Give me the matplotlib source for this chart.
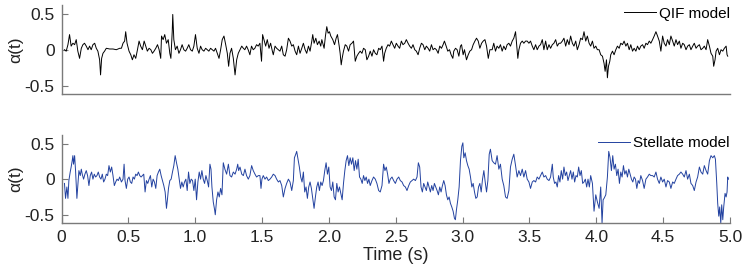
import matplotlib as mpl
import matplotlib.pyplot as plt
mpl.use('agg')

plt.rcParams['font.family'] = ['Liberation Sans', 'DejaVu Sans']

# QIF model, alpha(t)
qif_t = [0.022, 0.035, 0.048, 0.06, 0.072, 0.085, 0.098, 0.11, 0.122, 0.135, 0.148, 0.16, 0.172, 0.185, 0.198,
         0.21, 0.222, 0.235, 0.248, 0.26, 0.272, 0.285, 0.292, 0.30, 0.31, 0.322, 0.335, 0.36, 0.385, 0.41, 0.435,
         0.448, 0.46, 0.472, 0.48, 0.49, 0.505, 0.518, 0.53, 0.542, 0.555, 0.568, 0.58, 0.592, 0.605, 0.618, 0.63,
         0.642, 0.655, 0.668, 0.68, 0.692, 0.705, 0.718, 0.73, 0.742, 0.748, 0.76, 0.772, 0.785, 0.798, 0.81, 0.818,
         0.828, 0.832, 0.84, 0.852, 0.865, 0.878, 0.89, 0.902, 0.915, 0.928, 0.94, 0.952, 0.965, 0.978, 0.99, 1.002,
         1.015, 1.028, 1.04, 1.052, 1.065, 1.078, 1.09, 1.102, 1.115, 1.128, 1.14, 1.152, 1.165, 1.178, 1.19, 1.202,
         1.215, 1.228, 1.24, 1.25, 1.26, 1.272, 1.285, 1.298, 1.31, 1.322, 1.335, 1.348, 1.36,
         1.371, 1.384, 1.396, 1.409, 1.421, 1.434, 1.446, 1.459, 1.471, 1.484, 1.496, 1.504, 1.514, 1.527, 1.539,
         1.552, 1.564, 1.577, 1.584, 1.597, 1.609, 1.622, 1.634, 1.647, 1.659, 1.672, 1.684, 1.697, 1.709, 1.722,
         1.734, 1.747, 1.759, 1.772, 1.784, 1.797, 1.809, 1.822, 1.834, 1.847, 1.859, 1.872, 1.879, 1.889, 1.902,
         1.914, 1.927, 1.939, 1.947, 1.954, 1.964, 1.974, 1.984, 1.994, 2.004, 2.014, 2.029, 2.042, 2.054, 2.064,
         2.077, 2.084, 2.092, 2.099, 2.109, 2.122, 2.134, 2.147, 2.159, 2.172, 2.184, 2.197, 2.209, 2.222, 2.234,
         2.247, 2.259, 2.272, 2.284, 2.297, 2.309, 2.322, 2.334, 2.347, 2.359, 2.372, 2.384, 2.397, 2.409, 2.417,
         2.429, 2.442, 2.454, 2.467, 2.479, 2.492, 2.504, 2.517, 2.529, 2.542, 2.554, 2.567, 2.579, 2.592, 2.604,
         2.617, 2.629, 2.642, 2.654, 2.667, 2.679, 2.692, 2.704, 2.717, 2.729, 2.742, 2.754, 2.767, 2.779, 2.792,
         2.804, 2.817, 2.829, 2.842, 2.854, 2.864, 2.877, 2.889, 2.902, 2.914, 2.927, 2.934, 2.947, 2.959, 2.972,
         2.984, 2.992, 3.004, 3.014, 3.029, 3.042, 3.054, 3.067, 3.079, 3.092, 3.104, 3.117, 3.129, 3.142, 3.154,
         3.167, 3.179, 3.192, 3.204,
         3.221, 3.233, 3.246, 3.258, 3.271, 3.283, 3.296, 3.308, 3.321, 3.333, 3.346, 3.358, 3.371, 3.383, 3.396,
         3.403, 3.413, 3.421, 3.433, 3.446, 3.458, 3.471, 3.483, 3.496, 3.508, 3.521, 3.533, 3.546, 3.558, 3.571,
         3.583, 3.596, 3.608, 3.621, 3.633, 3.646, 3.658, 3.671, 3.683, 3.696, 3.708, 3.721, 3.733, 3.746, 3.758,
         3.771, 3.783, 3.796, 3.808, 3.821, 3.833, 3.846, 3.858, 3.871, 3.883, 3.896, 3.908, 3.921, 3.933, 3.946,
         3.958, 3.971, 3.983, 3.996, 4.008, 4.021, 4.033, 4.046, 4.058, 4.066, 4.076, 4.083, 4.091, 4.101, 4.108,
         4.121, 4.133, 4.146, 4.158, 4.171, 4.183, 4.196, 4.208, 4.221, 4.233, 4.246, 4.258, 4.271, 4.283, 4.296,
         4.308, 4.321, 4.333, 4.346, 4.358, 4.371, 4.383, 4.396, 4.408, 4.421, 4.433, 4.446, 4.458, 4.471, 4.483,
         4.496, 4.508, 4.521, 4.533, 4.546, 4.558, 4.571, 4.583, 4.596, 4.608, 4.621, 4.633, 4.646, 4.658, 4.671,
         4.683, 4.696, 4.708, 4.721, 4.733, 4.746, 4.758, 4.771, 4.783, 4.796, 4.808, 4.821, 4.833, 4.846, 4.858,
         4.871, 4.878, 4.888, 4.896, 4.908, 4.921, 4.933, 4.946, 4.958, 4.971, 4.978, 4.983]
qif_a = [0, -0.02, 0.07, 0.21, 0.05, 0.09, 0.07, 0.14, -0.02, -0.12, 0.02, 0.07, 0.09, 0.05, 0,
         0.05, 0, 0.07, 0.09, 0.02, -0.02, -0.14, -0.35, -0.12, -0.05, -0.02, 0.02, 0.01, 0.01, 0, 0.02,
         0.02, 0.09, 0.12, 0.25, 0.09, -0.02, -0.07, -0.14, -0.07, -0.12, 0, 0.12, 0.05, 0, 0.12, 0.05,
         -0.02, 0.02, 0, -0.05, -0.02, 0.02, 0.07, 0, -0.12, 0.19, 0.14, 0.21, 0.09, 0.14, -0.05, -0.12,
         0.25, 0.49, 0.14, 0, 0.05, -0.05, 0, 0.07, 0, -0.02, 0.02, 0.07, 0, -0.02, 0.05, 0.21,
         0.02, -0.05, 0.05, 0, -0.02, 0.02, 0, -0.02, 0.02, 0, -0.02, 0.02, -0.05, -0.12, 0, 0.14,
         0.19, 0.07, -0.05, -0.23, -0.05, 0.02, -0.12, -0.35, -0.14, -0.05, 0, 0.05, 0.02,
         0, 0.05, 0, -0.07, 0.05, 0, 0.02, 0.07, 0.05, 0.09, -0.16, 0.21, 0.14, 0.05, 0.14,
         0.02, 0.09, -0.02, -0.07, 0.05, 0.02, 0, -0.02, 0.05, -0.07, -0.09, 0, 0.16, 0.12, 0.05,
         0.07, -0.02, -0.07, 0.05, -0.05, 0.02, 0.09, 0, -0.05, 0.05, -0.02, 0.12, 0.21, 0.09, 0.16,
         0.07, 0.12, 0.05, 0.14, 0.09, 0.02, 0.19, 0.32, 0.23, 0.25, 0.19, 0.14, 0.07, 0.16, 0.21,
         0.05, -0.05, -0.21, -0.12, -0.02, 0.07, 0.05, -0.02, 0.07, 0.09, 0.12, -0.16, -0.09, -0.05, -0.02,
         -0.05, 0.02, 0, -0.14, -0.09, -0.02, -0.09, 0, -0.05, -0.07, 0.02, 0, 0.05, -0.16, -0.05,
         0.02, 0.07, 0.05, 0.12, 0.07, 0.02, 0.09, 0.05, 0.02, 0.12, 0.07, 0.09, 0.14, 0.09, 0.05,
         0.02, 0.07, 0, -0.02, -0.07, 0.02, 0.09, 0.07, 0, 0.05, 0.02, -0.02, 0.07, 0, 0.02,
         0, -0.05, 0.05, 0.02, 0.07, 0.12, 0.05, -0.02, 0, -0.07, -0.12, -0.02, 0.02, 0, -0.09,
         0.05, 0.07, -0.07, 0, -0.14, -0.07, -0.02, 0, 0.07, 0.12, 0.16, 0.12, 0.02, 0.09, 0.12,
         0.14, 0.05, -0.12, 0,
         0, 0.09, -0.02, 0.05, 0.02, 0.07, -0.02, 0.05, 0, 0.07, 0.09, 0.05, 0.12, 0.16, 0.25,
         0.09, -0.12, 0, 0.09, 0.12, 0.09, 0.12, 0.12, 0.09, 0.12, 0.05, 0, 0.07, 0, 0.05,
         0.07, 0.14, 0, 0.12, 0, 0.07, 0.02, 0.07, 0.09, 0.14, 0.05, 0.09, 0.09, 0.12, 0.16,
         0.05, 0.14, 0.07, 0.19, 0.09, 0.05, 0.12, 0, 0.07, 0.16, 0.14, 0.25, 0.12, 0.19, 0.09,
         0.05, 0.12, 0.02, 0.05, 0, 0, -0.07, -0.09, -0.19, -0.30, -0.14, -0.39, -0.23, -0.16, -0.07,
         -0.02, -0.07, 0, 0.05, 0.02, 0.09, 0.07, 0.12, 0.05, 0.09, 0, 0.07, -0.02, 0.02, -0.02,
         0.05, 0, 0.05, 0.07, 0.02, 0.09, 0.07, 0.12, 0.09, 0.14, 0.19, 0.25, 0.19, 0.12, -0.02,
         0.19, 0.09, 0.05, 0.14, 0.07, 0.19, 0.12, 0.05, 0.14, 0.07, 0.12, 0.02, 0.09, 0.07, 0,
         0.05, 0.07, 0, 0.05, 0.09, 0.02, 0.05, 0.07, 0, 0.02, 0.05, 0, 0.14, 0.05, -0.05,
         -0.09, -0.23, -0.14, -0.02, 0.02, -0.07, 0, -0.02, 0.02, 0.05, -0.07, -0.09]

# Stellate model, alpha(t)
stel_t = [0.022, 0.03, 0.04, 0.048, 0.055, 0.065, 0.072, 0.08, 0.085, 0.09, 0.098, 0.105, 0.115, 0.122, 0.13,
          0.14, 0.148, 0.155, 0.165, 0.175, 0.185, 0.195, 0.205, 0.215, 0.225, 0.235, 0.245, 0.255, 0.265, 0.275,
          0.285, 0.295, 0.305, 0.315, 0.325, 0.335, 0.345, 0.355, 0.365, 0.375, 0.385, 0.395, 0.405, 0.415, 0.425,
          0.435, 0.448, 0.46, 0.468, 0.475, 0.485, 0.495, 0.505, 0.515, 0.525, 0.535, 0.545, 0.555, 0.565, 0.575,
          0.585, 0.595, 0.605, 0.615, 0.625, 0.635, 0.645, 0.655, 0.665, 0.675, 0.685, 0.695, 0.705, 0.715, 0.725,
          0.735, 0.745, 0.755, 0.765, 0.775, 0.785, 0.792, 0.80, 0.81, 0.82, 0.83, 0.84, 0.85, 0.86, 0.87,
          0.88, 0.89, 0.90, 0.91, 0.92, 0.93, 0.94, 0.95, 0.96, 0.97, 0.98, 0.99, 1.00, 1.01, 1.02,
          1.03, 1.04, 1.05, 1.06, 1.07, 1.08, 1.09, 1.10, 1.11, 1.118, 1.125, 1.135, 1.145, 1.15, 1.16,
          1.17, 1.18, 1.19, 1.20, 1.21, 1.222, 1.235, 1.248, 1.26, 1.272, 1.285, 1.298, 1.31, 1.318, 1.325,
          1.335, 1.348, 1.36,
          1.372, 1.384, 1.397, 1.409, 1.422, 1.434, 1.447, 1.459, 1.472, 1.484, 1.492, 1.499, 1.509, 1.522, 1.534,
          1.547, 1.559, 1.572, 1.584, 1.597, 1.609, 1.622, 1.634, 1.647, 1.659, 1.672, 1.684, 1.697, 1.709, 1.722,
          1.734, 1.742, 1.752, 1.759, 1.769, 1.779, 1.789, 1.799, 1.809, 1.819, 1.829, 1.839, 1.849, 1.859, 1.869,
          1.879, 1.889, 1.899, 1.909, 1.919, 1.929, 1.939, 1.949, 1.959, 1.969, 1.979, 1.989, 1.999, 2.009, 2.019,
          2.029, 2.039, 2.049, 2.059, 2.069, 2.079, 2.089, 2.099, 2.109, 2.119, 2.129, 2.139, 2.149, 2.159, 2.169,
          2.179, 2.189, 2.199, 2.209, 2.219, 2.229, 2.239, 2.249, 2.259, 2.269, 2.279, 2.289, 2.299, 2.309, 2.322,
          2.334, 2.347, 2.359, 2.372, 2.384, 2.397, 2.409, 2.419, 2.429, 2.439, 2.449, 2.459, 2.472, 2.484, 2.497,
          2.509, 2.522, 2.534, 2.547, 2.559, 2.572, 2.584, 2.597, 2.609, 2.622, 2.634, 2.647, 2.659, 2.669, 2.679,
          2.689, 2.699, 2.709, 2.719, 2.729, 2.739, 2.749, 2.759, 2.769, 2.779, 2.789, 2.799, 2.809, 2.819, 2.829,
          2.839, 2.849, 2.859, 2.869, 2.879, 2.889, 2.899, 2.909, 2.919, 2.929, 2.939, 2.946, 2.954, 2.964, 2.974,
          2.984, 2.994, 3.002, 3.009, 3.019, 3.029, 3.039, 3.049, 3.059, 3.069, 3.079, 3.089, 3.099, 3.109, 3.119,
          3.129, 3.139, 3.149, 3.159, 3.169, 3.179, 3.189, 3.199,
          3.208, 3.221, 3.233, 3.246, 3.258, 3.271, 3.283, 3.296, 3.308, 3.321, 3.333, 3.346, 3.358, 3.371, 3.383,
          3.396, 3.408, 3.421, 3.433, 3.446, 3.458, 3.471, 3.483, 3.496, 3.508, 3.521, 3.533, 3.546, 3.558, 3.571,
          3.583, 3.596, 3.608, 3.621, 3.633, 3.646, 3.658, 3.671, 3.678, 3.688, 3.698, 3.708, 3.718, 3.728, 3.738,
          3.748, 3.758, 3.768, 3.778, 3.788, 3.798, 3.808, 3.818, 3.828, 3.838, 3.848, 3.858, 3.868, 3.878, 3.888,
          3.898, 3.908, 3.918, 3.928, 3.938, 3.948, 3.958, 3.971, 3.983, 3.996, 4.008, 4.021, 4.033, 4.043, 4.051,
          4.058, 4.071, 4.083, 4.093, 4.103, 4.113, 4.123, 4.133, 4.143, 4.153, 4.163, 4.173, 4.183, 4.193, 4.203,
          4.213, 4.223, 4.233, 4.243, 4.253, 4.263, 4.273, 4.283, 4.293, 4.303, 4.313, 4.323, 4.333, 4.346, 4.358,
          4.371, 4.383, 4.396, 4.408, 4.421, 4.433, 4.446, 4.458, 4.471, 4.483, 4.496, 4.508, 4.521, 4.533, 4.546,
          4.558, 4.571, 4.583, 4.596, 4.608, 4.621, 4.633, 4.646, 4.658, 4.671, 4.683, 4.696, 4.708, 4.721, 4.733,
          4.746, 4.758, 4.771, 4.783, 4.796, 4.808, 4.821, 4.833, 4.846, 4.858, 4.871, 4.883, 4.891, 4.901, 4.908,
          4.916, 4.923, 4.931, 4.938, 4.946, 4.953, 4.963, 4.971, 4.978, 4.983, 4.988]
stel_a = [-0.06, -0.27, -0.11, -0.27, -0.02, 0.10, 0.17, 0.26, 0.33, 0.21, 0.33, 0.12, -0.27, -0.09, 0.12,
          0.05, 0.14, 0.07, 0, 0.07, 0.12, 0.05, -0.09, 0.05, 0.10, 0, 0.07, 0.03, 0.05, 0.10,
          0.03, 0, 0.07, -0.04, 0, 0.07, 0.05, 0.19, 0.10, 0.17, 0.05, -0.09, -0.04, 0, -0.02,
          0.03, -0.04, 0, 0.21, -0.02, -0.13, 0, 0.03, -0.04, -0.06, 0.03, 0, 0.07, 0.05, 0.10,
          0.05, 0.03, 0.05, 0.07, -0.18, -0.02, -0.06, 0, 0.05, -0.11, 0, -0.04, -0.13, 0.05, 0.10,
          0.14, 0.05, -0.02, -0.09, -0.18, -0.41, -0.29, -0.13, -0.02, 0, 0.10, 0.19, 0.33, 0.23, 0.14,
          0, -0.13, -0.04, -0.11, -0.04, 0, -0.16, 0.10, -0.06, 0, -0.02, -0.16, 0, -0.29, -0.04,
          0.10, 0, 0.12, 0, -0.06, 0.05, -0.02, -0.11, 0.21, 0.14, -0.11, -0.32, -0.43, -0.50, -0.29,
          -0.18, -0.25, -0.13, -0.22, 0.23, 0.14, 0.07, 0.21, 0.05, 0.03, 0.10, 0.07, 0.14, 0.21, 0.12,
          0.17, 0.07, 0.05,
          0.14, 0.05, 0, 0.05, 0.19, 0.12, 0.07, 0.03, 0.05, 0.05, -0.13, 0, 0.05, 0, 0.03,
          -0.02, 0, 0.03, 0.07, 0.05, 0, -0.04, -0.02, -0.09, -0.25, -0.13, -0.06, 0, -0.04, -0.16,
          -0.02, 0.30, 0.35, 0.39, 0.28, 0.17, 0.03, -0.04, 0.10, -0.18, -0.11, -0.27, -0.11, -0.04, -0.13,
          -0.27, -0.41, -0.25, -0.11, -0.04, -0.16, -0.04, -0.09, -0.02, 0.12, 0.23, 0.07, 0.17, -0.11, -0.16,
          -0.04, -0.25, -0.29, -0.06, -0.18, -0.11, -0.20, -0.29, -0.06, 0.12, 0.26, 0.33, 0.19, 0.30, 0.21,
          0.30, 0.12, 0.26, 0.14, 0.28, 0.03, 0, -0.06, 0.05, -0.02, 0.03, -0.06, 0, -0.09, -0.02,
          0.03, 0, -0.06, -0.16, -0.18, -0.09, 0.21, 0.12, 0.17, 0.07, -0.06, 0, 0.03, -0.02, -0.06,
          0, 0.03, -0.02, -0.04, -0.09, -0.11, -0.16, -0.09, -0.04, -0.02, 0, -0.02, 0.03, 0.23, 0.17,
          -0.11, -0.18, -0.06, -0.11, -0.16, -0.04, -0.11, -0.18, -0.09, -0.16, -0.06, -0.11, -0.16, -0.22, -0.11,
          -0.18, -0.09, -0.02, -0.09, -0.22, -0.29, -0.25, -0.34, -0.39, -0.45, -0.55, -0.57, -0.43, -0.29, -0.11,
          0.26, 0.46, 0.51, 0.30, 0.37, 0.26, 0.19, 0.14, 0.03, -0.11, -0.06, -0.18, -0.27, -0.25, -0.11,
          -0.06, -0.18, 0, 0.12, -0.04, -0.18, -0.02, 0.35,
          0.42, 0.26, 0.23, 0.21, 0.33, 0.14, 0.21, 0, -0.09, -0.25, -0.27, -0.16, 0.17, 0.28, 0.35,
          0.19, 0.03, 0.12, 0.05, 0.14, 0.03, 0.12, 0, -0.04, -0.13, -0.04, -0.02, -0.04, 0.03, 0,
          0.05, 0.10, 0.03, 0.05, 0, -0.02, 0.03, 0.21, 0.03, -0.06, -0.04, -0.11, 0.05, -0.04, 0.12,
          0, 0.17, 0.05, 0.10, -0.02, 0.05, 0.12, 0, 0.10, -0.04, 0.05, 0.03, 0.17, 0.05, 0.12,
          -0.06, -0.04, 0, -0.11, 0, -0.11, 0.05, -0.06, -0.45, -0.22, -0.32, -0.41, -0.11, -0.62, -0.29,
          -0.27, -0.22, 0.03, 0.39, 0.30, 0.12, 0.33, 0.14, 0.21, 0.05, 0.14, -0.06, 0.10, 0.03, 0.19,
          0.07, 0.12, 0.03, 0.14, 0.07, 0, -0.04, 0.03, 0, -0.13, -0.02, -0.06, 0.05, -0.02, -0.13,
          0, 0.03, 0.07, 0.05, 0.05, 0.03, 0.10, 0, -0.06, 0.03, -0.04, 0, -0.11, -0.02, -0.04,
          -0.13, -0.04, -0.06, 0, 0.05, 0.07, 0.10, 0.07, 0.03, 0.12, 0, 0.07, -0.06, -0.09, -0.16,
          -0.04, 0.03, 0.17, 0.10, 0.07, 0.19, 0.12, 0.07, 0.26, 0.33, 0.30, 0.33, 0.28, -0.06, -0.34,
          -0.52, -0.39, -0.62, -0.36, -0.57, -0.39, -0.20, -0.25, -0.18, 0.03, 0]

y_ticks = [-0.5, 0, 0.5]
y_ticklabels = ['-0.5', '0', '0.5']
x_ticks = [0, 0.5, 1.0, 1.5, 2.0, 2.5, 3.0, 3.5, 4.0, 4.5, 5.0]
x_ticklabels = ['0', '0.5', '1.0', '1.5', '2.0', '2.5', '3.0', '3.5', '4.0', '4.5', '5.0']

dpi = 100
fig = plt.figure(figsize=(743 / dpi, 268 / dpi), dpi=dpi)
axTop = fig.add_axes([0.0828, 0.648, 0.8997, 0.333])
axBot = fig.add_axes([0.0828, 0.1668, 0.8997, 0.3295])

axTop.plot(qif_t, qif_a, color='black', lw=0.7, label='QIF model')
axBot.plot(stel_t, stel_a, color='#2342a0', lw=0.7, label='Stellate model')

spineGray = '#7a7a7a'
for ax in [axTop, axBot]:
    ax.set_xlim(0, 5)
    ax.set_ylim(-0.62, 0.62)
    for side in ['top', 'right']:
        ax.spines[side].set_visible(False)
    for side in ['left', 'bottom']:
        ax.spines[side].set_color(spineGray)
        ax.spines[side].set_linewidth(1.0)
    ax.set_yticks(y_ticks)
    ax.set_yticklabels(y_ticklabels)
    ax.tick_params(axis='both', direction='in', length=4, width=0.8, color=spineGray,
                   labelsize=12.5, labelcolor='#222222', pad=5)
    ax.set_ylabel('α(t)', fontsize=12.5, color='#222222', labelpad=1)
    ax.legend(loc='center right', bbox_to_anchor=(1.0, 0.905), frameon=False, fontsize=11,
              handlelength=2.1, handletextpad=0.2, borderpad=0, borderaxespad=0)

axTop.set_xticks([])
axBot.set_xticks(x_ticks)
axBot.set_xticklabels(x_ticklabels)
axBot.set_xlabel('Time (s)', fontsize=13, color='#222222', labelpad=1)

plt.savefig('out.png', dpi=dpi)
